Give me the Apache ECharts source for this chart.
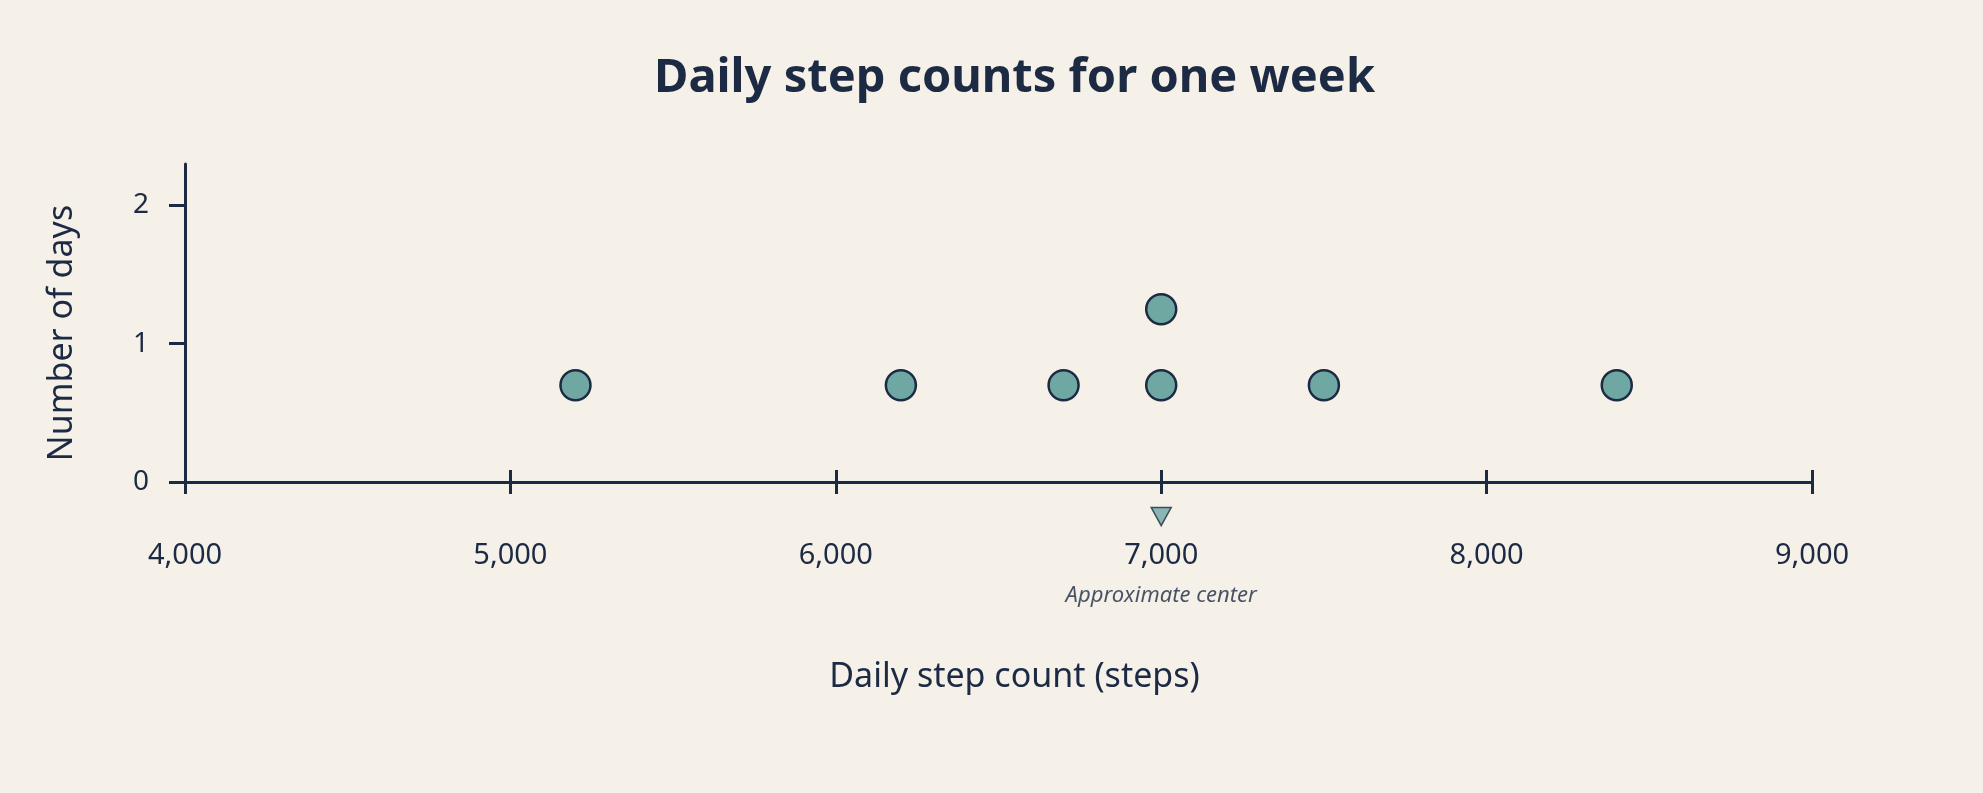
<!DOCTYPE html>
<html>
<head>
<meta charset="utf-8">
<script src="https://cdn.jsdelivr.net/npm/echarts@6/dist/echarts.min.js"></script>
<style>
  html, body { margin: 0; padding: 0; background: #f5f0e8; }
  #chart { width: 1983px; height: 793px; }
</style>
</head>
<body>
<div id="chart"></div>
<script>
// step counts, one dot per day
var steps = [5200, 6200, 6700, 7000, 7000, 7500, 8400];
// stacked dot height (second 7000 day sits above the first)
var dotLevel = [0.7, 0.7, 0.7, 0.7, 1.25, 0.7, 0.7];
var xTicks = [4000, 5000, 6000, 7000, 8000, 9000];
var yTicks = [0, 1, 2];
var centerValue = 7000;
var centerLabel = 'Approximate center';

var ink = '#1c2a44';
var font = 'Noto Sans';

var chart = echarts.init(document.getElementById('chart'));

var dots = [];
for (var i = 0; i < steps.length; i++) {
	dots.push([steps[i], dotLevel[i]]);
}

var option = {
	backgroundColor: '#f5f0e8',
	animation: false,
	title: {
		text: 'Daily step counts for one week',
		left: 654,
		top: 55,
		padding: 0,
		textStyle: { color: ink, fontFamily: font, fontSize: 47, fontWeight: 'bold' }
	},
	grid: { left: 185, right: 171, top: 164, bottom: 311 },
	xAxis: [{
		type: 'value',
		min: xTicks[0],
		max: xTicks[xTicks.length - 1],
		interval: 1000,
		position: 'bottom',
		name: 'Daily step count (steps)',
		nameLocation: 'middle',
		nameGap: 178,
		nameTextStyle: { color: ink, fontFamily: font, fontSize: 34, padding: [0, 0, 0, 32] },
		axisLine: { onZero: false, lineStyle: { color: ink, width: 3 } },
		axisTick: { length: 12, lineStyle: { color: ink, width: 3 } },
		axisLabel: {
			color: ink, fontFamily: font, fontSize: 29, margin: 59,
			formatter: function(v) { return v.toLocaleString('en-US'); }
		},
		splitLine: { show: false }
	}, {
		// upper half of the crossing x ticks
		type: 'value',
		min: xTicks[0],
		max: xTicks[xTicks.length - 1],
		interval: 1000,
		position: 'bottom',
		axisLine: { show: false },
		axisTick: { inside: true, length: 12, lineStyle: { color: ink, width: 3 } },
		axisLabel: { show: false },
		splitLine: { show: false }
	}],
	yAxis: {
		type: 'value',
		min: 0,
		max: 2.3,
		interval: 1,
		name: 'Number of days',
		nameLocation: 'middle',
		nameGap: 106,
		nameTextStyle: { color: ink, fontFamily: font, fontSize: 34, padding: [0, 20, 0, 0] },
		axisLine: { show: true, lineStyle: { color: ink, width: 3 } },
		axisTick: { show: true, length: 16, customValues: yTicks, lineStyle: { color: ink, width: 3 } },
		axisLabel: { color: ink, fontFamily: font, fontSize: 28, margin: 36, customValues: yTicks },
		splitLine: { show: false }
	},
	series: [{
		type: 'scatter',
		data: dots,
		symbol: 'circle',
		symbolSize: 30,
		itemStyle: { color: '#6fa8a3', borderColor: ink, borderWidth: 2.5, opacity: 1 },
		z: 5
	}, {
		type: 'scatter',
		clip: false,
		data: [[centerValue, -0.25]],
		symbol: 'path://M0,0 L20,0 L10,18 Z',
		symbolSize: [20, 18],
		itemStyle: { color: '#6fa8a3', borderColor: ink, borderWidth: 1.5 },
		label: {
			show: true,
			position: 'bottom',
			distance: 58,
			formatter: centerLabel,
			color: ink,
			fontFamily: font,
			fontSize: 22,
			fontStyle: 'italic'
		}
	}]
};

chart.setOption(option);
</script>
</body>
</html>
